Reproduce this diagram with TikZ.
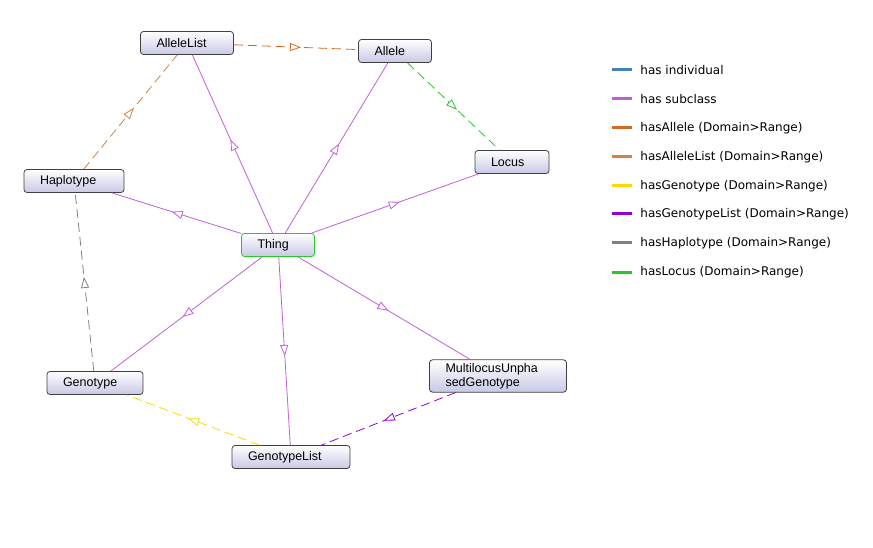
\documentclass[tikz,border=0pt]{standalone}
\usepackage{fontspec}
\setmainfont{Liberation Sans}
\newfontfamily\legendfont{DejaVu Sans}
\usepackage{xcolor}
\usepackage{tikz}
\usetikzlibrary{arrows.meta, positioning, decorations.markings}

\definecolor{lavbox}{RGB}{200,200,230}
\definecolor{individualc}{RGB}{70,130,180}
\definecolor{subclassc}{RGB}{192,96,216}
\definecolor{alleleC}{RGB}{210,105,30}
\definecolor{alleleListC}{RGB}{205,133,63}
\definecolor{genotypeC}{RGB}{255,215,0}
\definecolor{genotypeListC}{RGB}{148,0,211}
\definecolor{haplotypeC}{RGB}{128,128,128}
\definecolor{locusC}{RGB}{40,200,40}

\begin{document}
\begin{tikzpicture}[
    x=1pt, y=-1pt,
    cls/.style={draw=black!75, line width=0.8pt, rounded corners=3pt, top color=white, bottom color=lavbox, minimum height=23pt, inner xsep=16pt, align=left, font=\fontsize{12.5}{14}\selectfont},
    root/.style={cls, draw=locusC},
    midtip/.style={postaction={decorate}, decoration={markings, mark=at position 0.5 with {\arrow[xshift=5pt]{Triangle[length=11pt, width=8pt, fill=white]}}}},
    subcls/.style={draw=subclassc, line width=0.8pt, midtip},
    prop/.style={line width=0.8pt, dash pattern=on 9pt off 5pt, midtip},
    key/.style={minimum width=20pt, minimum height=3pt, inner sep=0pt},
    lbl/.style={font=\legendfont\fontsize{12}{14}\selectfont, inner sep=0pt, anchor=west}
]
\useasboundingbox (0,0) rectangle (873,548);

\node[cls, text width=61pt] (alleleList) at (187,43) {AlleleList};
\node[cls, text width=41pt] (allele) at (395,51) {Allele};
\node[cls, text width=42pt] (locus) at (512,162) {Locus};
\node[cls, text width=68pt] (haplotype) at (74,181) {Haplotype};
\node[root, text width=41pt] (thing) at (278,245) {Thing};
\node[cls, text width=64pt] (genotype) at (95,383) {Genotype};
\node[cls, text width=105pt] (multilocus) at (498,376) {MultilocusUnpha\\sedGenotype};
\node[cls, text width=86pt] (genotypeList) at (291,457) {GenotypeList};

\draw[subcls] (thing) -- (alleleList);
\draw[subcls] (thing) -- (allele);
\draw[subcls] (thing) -- (locus);
\draw[subcls] (thing) -- (haplotype);
\draw[subcls] (thing) -- (genotype);
\draw[subcls] (thing) -- (genotypeList);
\draw[subcls] (thing) -- (multilocus);

\draw[prop, draw=alleleC] (alleleList) -- (allele);
\draw[prop, draw=alleleListC] (haplotype) -- (alleleList);
\draw[prop, draw=locusC] (allele) -- (locus);
\draw[prop, draw=haplotypeC] (genotype) -- (haplotype);
\draw[prop, draw=genotypeC] (genotypeList) -- (genotype);
\draw[prop, draw=genotypeListC] (multilocus) -- (genotypeList);

% legend
\node[key, fill=individualc] (k1) at (622,70) {};
\node[key, fill=subclassc] (k2) at (622,99) {};
\node[key, fill=alleleC] (k3) at (622,128) {};
\node[key, fill=alleleListC] (k4) at (622,157) {};
\node[key, fill=genotypeC] (k5) at (622,186) {};
\node[key, fill=genotypeListC] (k6) at (622,214) {};
\node[key, fill=haplotypeC] (k7) at (622,243) {};
\node[key, fill=locusC] (k8) at (622,272) {};

\node[lbl, right=8pt of k1] (l1) {has individual};
\node[lbl, right=8pt of k2] (l2) {has subclass};
\node[lbl, right=8pt of k3] (l3) {hasAllele (Domain>Range)};
\node[lbl, right=8pt of k4] (l4) {hasAlleleList (Domain>Range)};
\node[lbl, right=8pt of k5] (l5) {hasGenotype (Domain>Range)};
\node[lbl, right=8pt of k6] (l6) {hasGenotypeList (Domain>Range)};
\node[lbl, right=8pt of k7] (l7) {hasHaplotype (Domain>Range)};
\node[lbl, right=8pt of k8] (l8) {hasLocus (Domain>Range)};
\end{tikzpicture}
\end{document}
